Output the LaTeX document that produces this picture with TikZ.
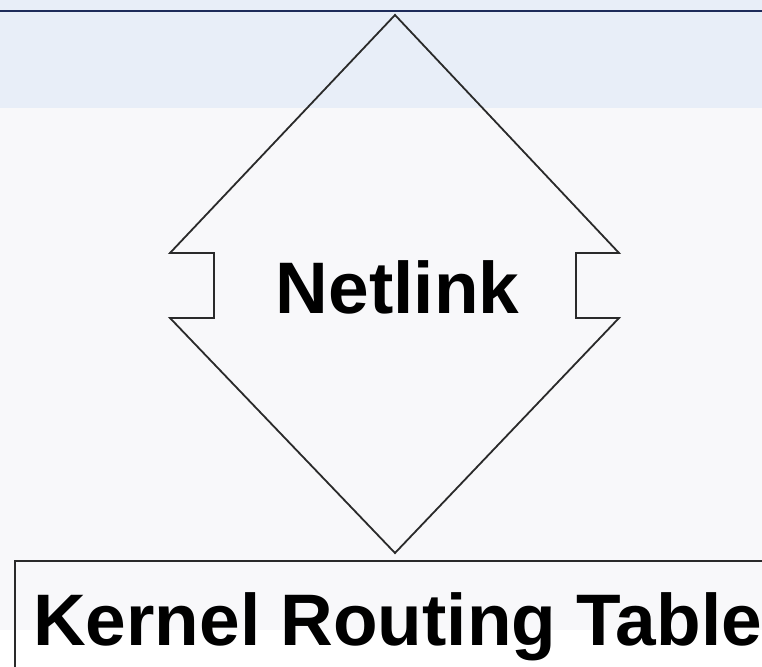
\documentclass[tikz,border=0pt]{standalone}
\usepackage{fontspec}
\setmainfont{Liberation Sans}
\definecolor{bandblue}{HTML}{E8EEF8}
\definecolor{panelgray}{HTML}{F8F8FA}
\definecolor{navyline}{HTML}{1E2B5A}
\definecolor{shapeline}{HTML}{2A2A2A}
\tikzset{
  bigtext/.style={inner sep=0pt,font=\fontsize{73}{82}\selectfont\bfseries},
  outline/.style={draw=shapeline,line width=1.8pt,line join=miter}
}

\begin{document}
\begin{tikzpicture}[x=1pt,y=-1pt]
        \useasboundingbox (0,0) rectangle (762,666);
        \clip (0,0) rectangle (762,666);
        % background bands
        \fill[white] (0,0) rectangle (762,666);
        \fill[panelgray] (0,108) rectangle (762,630);
        \fill[bandblue] (0,0) rectangle (762,108);
        \draw[navyline,line width=2pt] (0,11) -- (762,11);
        % double arrow
        \node[bigtext,anchor=base] (nl) at (397.5,313) {Netlink};
        \draw[outline] (395,15) -- (619,253) -- (576,253) -- (576,318) -- (619,318)
            -- (395,553) -- (170,318) -- (214,318) -- (214,253) -- (170,253) -- cycle;
        % table box
        \node[bigtext,anchor=base west] (krt) at (33,645) {Kernel Routing Table};
        \draw[outline] (15,700) |- (800,561);
    \end{tikzpicture}
\end{document}
